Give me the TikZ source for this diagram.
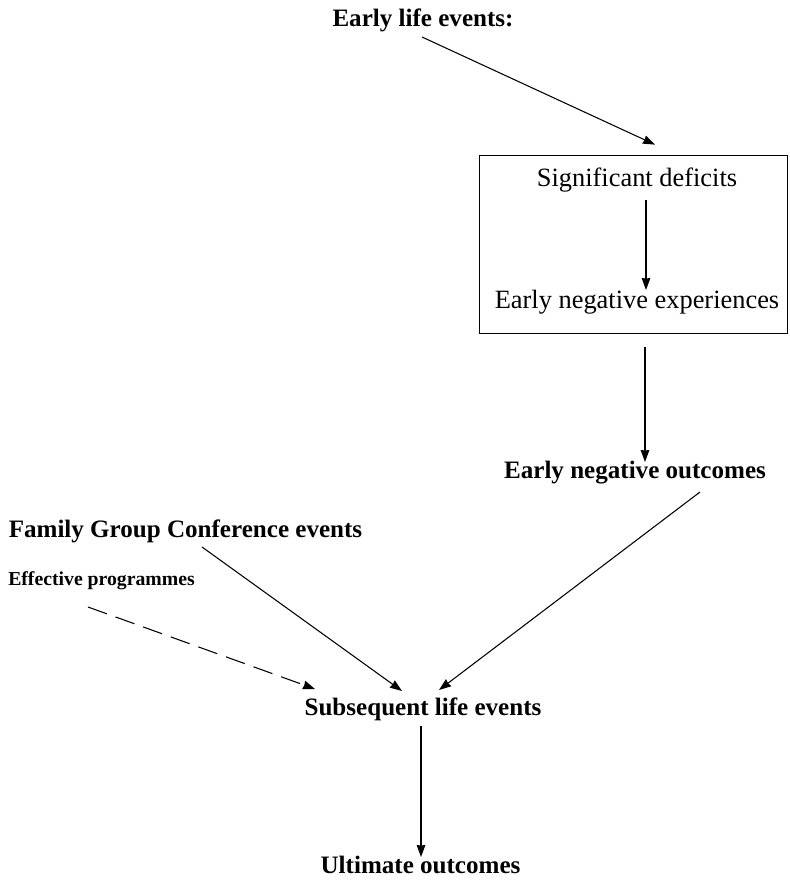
\documentclass[tikz,border=0pt]{standalone}
\usepackage{fontspec}
\setmainfont{Liberation Serif}
\usetikzlibrary{positioning,arrows.meta}

\begin{document}
\begin{tikzpicture}[
            x=0.75pt, y=-0.75pt,
            every node/.style={inner sep=0pt, anchor=base},
            heading/.style={font=\fontsize{18.8}{22}\selectfont\bfseries},
            inbox/.style={font=\fontsize{19.8}{23}\selectfont},
            minor/.style={font=\fontsize{14.8}{17}\selectfont\bfseries},
            ->, >={Stealth[length=9pt, width=6.5pt, inset=0.5pt]}, line width=0.8pt
        ]
        \useasboundingbox (0,0) rectangle (789,880);

        % Nodes
        \node[heading] (early) at (423,27) {Early life events:};
        \node[draw, anchor=center, minimum width=231pt, minimum height=134pt] (deficitbox) at (633.5,244.5) {};
        \node[inbox] (deficits) at (637,187) {Significant deficits};
        \node[inbox] (negexp) at (637,308) {Early negative experiences};
        \node[heading] (negout) at (635,478) {Early negative outcomes};
        \node[heading] (fgc) at (185.5,537) {Family Group Conference events};
        \node[minor] (effprog) at (101.5,585) {Effective programmes};
        \node[heading] (later) at (423,715) {Subsequent life events};
        \node[heading] (ultimate) at (420.5,873) {Ultimate outcomes};

        % Arrows
        \draw ([shift={(-1,10)}]early.base) -- ([shift={(21.5,-10)}]deficitbox.north);
        \draw ([shift={(9,13)}]deficits.base) -- ([shift={(9,-18)}]negexp.base);
        \draw ([shift={(11.5,13)}]deficitbox.south) -- ([shift={(10,-16)}]negout.base);
        \draw ([shift={(65,14)}]negout.base) -- ([shift={(16,-25)}]later.base);
        \draw ([shift={(16.5,10)}]fgc.base) -- ([shift={(-21,-24)}]later.base);
        \draw[dash pattern=on 15pt off 7pt] ([shift={(-13.5,22)}]effprog.base) -- ([shift={(-108,-26)}]later.base);
        \draw ([shift={(-2,11)}]later.base) -- ([shift={(0.5,-16)}]ultimate.base);
        \end{tikzpicture}
\end{document}
